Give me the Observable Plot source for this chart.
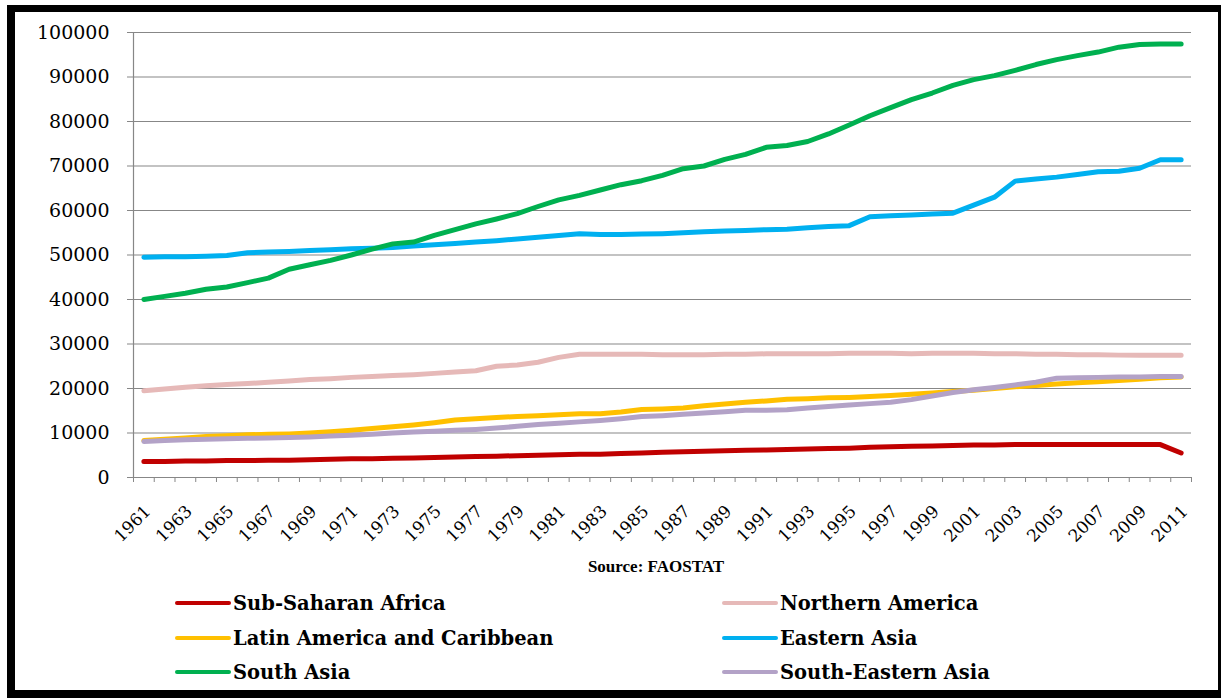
<!DOCTYPE html>
<html>
<head>
<meta charset="utf-8">
<script src="https://cdn.jsdelivr.net/npm/d3@7"></script>
<script src="https://cdn.jsdelivr.net/npm/@observablehq/plot@0.6"></script>
<style>
  html, body { margin: 0; padding: 0; background: #fff; }
  body { width: 1223px; height: 698px; position: relative; overflow: hidden; }
  #frame { position: absolute; left: 7px; top: 5px; width: 1214px; height: 693px; box-sizing: border-box;
    border-left: 8px solid #000; border-top: 7px solid #000; border-bottom: 8px solid #000; border-right: 3px solid #000; }
  #chart { position: absolute; left: 0; top: 0; }
  #source { position: absolute; left: 0; width: 1312px; top: 557px; text-align: center;
    font-family: "Liberation Serif", serif; font-weight: bold; font-size: 17px; color: #000; }
  .leg { position: absolute; font-family: "DejaVu Serif", serif; font-weight: bold; font-size: 19.5px; color: #000;
    display: flex; align-items: center; white-space: nowrap; }
  .sw { width: 56px; height: 4px; margin-right: 2px; border-radius: 2px; }
</style>
</head>
<body>
<div id="frame"></div>
<div id="chart"></div>
<div id="source">Source: FAOSTAT</div>
<div id="legend"></div>
<script>
const years = [1961,1962,1963,1964,1965,1966,1967,1968,1969,1970,1971,1972,1973,1974,1975,1976,1977,1978,1979,1980,
  1981,1982,1983,1984,1985,1986,1987,1988,1989,1990,1991,1992,1993,1994,1995,1996,1997,1998,1999,2000,
  2001,2002,2003,2004,2005,2006,2007,2008,2009,2010,2011];

const seriesNames = ["Sub-Saharan Africa","Northern America","Latin America and Caribbean","Eastern Asia","South Asia","South-Eastern Asia"];
const seriesColors = ["#C00000","#E6B9B8","#FFC000","#00B0F0","#00B050","#B3A2C7"];

const subSaharanAfrica = [3600,3600,3700,3700,3800,3800,3900,3900,4000,4100,
  4200,4200,4300,4400,4500,4600,4700,4800,4900,5000,
  5100,5200,5200,5400,5500,5700,5800,5900,6000,6100,
  6200,6300,6400,6500,6600,6800,6900,7000,7100,7200,
  7300,7300,7400,7400,7400,7400,7400,7400,7400,7400,5500];
const northernAmerica = [19500,19900,20300,20600,20900,21100,21400,21700,22000,22200,
  22500,22700,22900,23100,23400,23700,24000,25000,25300,25900,
  27000,27700,27700,27700,27700,27600,27600,27600,27700,27700,
  27800,27800,27800,27800,27900,27900,27900,27800,27900,27900,
  27900,27800,27800,27700,27700,27600,27600,27500,27500,27500,27500];
const latinAmerica = [8300,8600,8900,9200,9400,9600,9700,9800,10000,10300,
  10600,11000,11400,11800,12300,12900,13200,13500,13700,13900,
  14100,14300,14300,14700,15300,15400,15600,16100,16500,16900,
  17200,17600,17700,17900,18000,18200,18400,18700,19000,19300,
  19600,20000,20400,20700,21000,21300,21500,21800,22100,22400,22600];
const easternAsia = [49500,49600,49600,49700,49900,50500,50700,50800,51000,51200,
  51400,51500,51700,52000,52300,52600,52900,53200,53600,54000,
  54400,54800,54600,54600,54700,54800,55000,55200,55400,55500,
  55700,55800,56100,56400,56600,58600,58800,59000,59200,59400,
  61200,63000,66600,67100,67500,68100,68700,68800,69500,71400,71400];
const southAsia = [40000,40700,41400,42300,42800,43800,44800,46800,47800,48800,
  50000,51300,52500,52900,54400,55700,57000,58100,59300,60900,
  62400,63400,64600,65800,66700,67900,69400,70000,71500,72600,
  74200,74600,75500,77200,79200,81300,83100,84900,86400,88100,
  89400,90300,91500,92800,93900,94800,95600,96700,97300,97400,97400];
const southEasternAsia = [8100,8300,8500,8600,8700,8800,8900,9000,9100,9300,
  9500,9700,10000,10200,10400,10600,10800,11100,11500,11900,
  12200,12500,12800,13200,13700,13900,14200,14500,14800,15100,
  15100,15200,15600,15950,16300,16600,16900,17500,18300,19100,
  19700,20200,20800,21400,22300,22400,22500,22600,22600,22700,22700];

const yTicks = [0,10000,20000,30000,40000,50000,60000,70000,80000,90000,100000];
const xLabelYears = years.filter((y, i) => i % 2 === 0);

const seriesValues = [subSaharanAfrica, northernAmerica, latinAmerica, easternAsia, southAsia, southEasternAsia];
const data = seriesNames.flatMap((name, s) => years.map((year, i) => ({series: name, year, value: seriesValues[s][i]})));
const bandEdges = years.map(y => y - 0.5).concat([years[years.length - 1] + 0.5]);

const plot = Plot.plot({
  width: 1223,
  height: 545,
  marginLeft: 133,
  marginRight: 32,
  marginTop: 32,
  marginBottom: 68,
  style: {background: "transparent", fontFamily: "'DejaVu Serif', serif", color: "#000", overflow: "visible"},
  x: {type: "linear", domain: [years[0] - 0.5, years[years.length - 1] + 0.5]},
  y: {domain: [0, 100000]},
  color: {domain: seriesNames, range: seriesColors},
  marks: [
    Plot.ruleY(yTicks, {stroke: "#878787", strokeWidth: 1.2}),
    Plot.ruleX([years[0] - 0.5], {stroke: "#878787", strokeWidth: 1.2}),
    Plot.axisY({ticks: yTicks, tickSize: 6, tickPadding: 18, stroke: "#878787", fontSize: 19, tickFormat: d => String(d), label: null}),
    Plot.axisX({ticks: bandEdges, tickSize: 5, stroke: "#878787", tickFormat: () => "", label: null}),
    Plot.axisX({ticks: xLabelYears, tickSize: 0, tickPadding: 0, tickRotate: -45, textAnchor: "end", lineAnchor: "middle",
      dx: 4, dy: 31, fontSize: 17, tickFormat: d => String(d), label: null}),
    Plot.line(data, {x: "year", y: "value", z: "series", stroke: "series", strokeWidth: 5, strokeLinecap: "round", strokeLinejoin: "round"})
  ]
});
document.getElementById("chart").appendChild(plot);

const legend = document.getElementById("legend");
const legPos = [[175, 603], [722, 603], [175, 638], [722, 638], [175, 672], [722, 672]];
seriesNames.forEach((name, s) => {
  const el = document.createElement("div");
  el.className = "leg";
  el.style.left = legPos[s][0] + "px";
  el.style.top = (legPos[s][1] - 14) + "px";
  el.style.height = "28px";
  const sw = document.createElement("div");
  sw.className = "sw";
  sw.style.background = seriesColors[s];
  const tx = document.createElement("span");
  tx.textContent = name;
  el.appendChild(sw);
  el.appendChild(tx);
  legend.appendChild(el);
});
</script>
</body>
</html>
